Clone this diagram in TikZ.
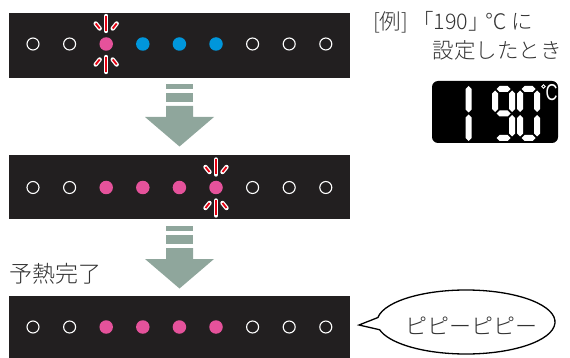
\documentclass[tikz,border=0pt]{standalone}
\usepackage{fontspec}
\newfontfamily\jp{Noto Sans CJK JP Light}
\newfontfamily\lsans{Liberation Sans}
\definecolor{panelbg}{HTML}{221F20}
\definecolor{dotpink}{HTML}{E5529B}
\definecolor{dotblue}{HTML}{0096DB}
\definecolor{arrowgreen}{HTML}{8FA69C}
\definecolor{blinkred}{HTML}{E60012}
\definecolor{txtgray}{HTML}{333333}
\usetikzlibrary{calc}
\tikzset{
  dotoff/.style={circle, draw=white, line width=1.1pt, inner sep=0pt, minimum size=12pt},
  dotpk/.style={circle, fill=dotpink, inner sep=0pt, minimum size=13.5pt},
  dotbl/.style={circle, fill=dotblue, inner sep=0pt, minimum size=13.5pt},
  panelbox/.style={fill=panelbg},
  arrowfill/.style={fill=arrowgreen},
  blinkw/.style={white, line width=4.4pt, line cap=round},
  blinkr/.style={blinkred, line width=1.8pt},
  jptext/.style={font=\jp, text=txtgray, inner sep=0pt},
  seg/.style={fill=white}
}
\newcommand{\hsg}[3]{\fill[seg] (#1,#3) -- ++(3,-3) -- ++({#2-#1-6},0) -- ++(3,3) -- ++(-3,3) -- ++({-(#2-#1-6)},0) -- cycle;}
\newcommand{\vsg}[3]{\fill[seg] (#1,#2) -- ++(3,3) -- ++(0,{#3-#2-6}) -- ++(-3,3) -- ++(-3,-3) -- ++(0,{-(#3-#2-6)}) -- cycle;}
\newcommand{\blinkmarks}[1]{%
  \foreach \a/\b/\c/\d in {0/-28/0/-13, -10.5/-20.5/-6.5/-15.5, 10.5/-20.5/6.5/-15.5,
                           0/28/0/13, -10.5/20.5/-6.5/15.5, 10.5/20.5/6.5/15.5}{
    \draw[blinkw] ($(#1)+(\a,\b)$) -- ($(#1)+(\c,\d)$);
    \draw[blinkr] ($(#1)+(\a,\b)$) -- ($(#1)+(\c,\d)$);
  }}
\newcommand{\flowarrow}[1]{%
  \begin{scope}[shift={(0,#1)}]
    \fill[arrowfill] (166,84) rectangle (193,89);
    \fill[arrowfill] (166,93) rectangle (193,102);
    \fill[arrowfill] (166,106) -- (193,106) -- (193,117) -- (214,117) -- (179.5,146.5) -- (145,117) -- (166,117) -- cycle;
  \end{scope}}
\begin{document}
\begin{tikzpicture}[x=1pt,y=-1pt]
\useasboundingbox (0,0) rectangle (570,358);
% panels
\fill[panelbox] (9,13) rectangle (350,78);
\fill[panelbox] (9,155) rectangle (350,219);
\fill[panelbox] (9,296) rectangle (350,358);
% panel 1 dots
\foreach \i/\s in {1/dotoff,2/dotoff,3/dotpk,4/dotbl,5/dotbl,6/dotbl,7/dotoff,8/dotoff,9/dotoff}
  \node[\s] (a\i) at ({33+36.6*(\i-1)},44) {};
% panel 2 dots
\foreach \i/\s in {1/dotoff,2/dotoff,3/dotpk,4/dotpk,5/dotpk,6/dotpk,7/dotoff,8/dotoff,9/dotoff}
  \node[\s] (b\i) at ({33+36.6*(\i-1)},187.5) {};
% panel 3 dots
\foreach \i/\s in {1/dotoff,2/dotoff,3/dotpk,4/dotpk,5/dotpk,6/dotpk,7/dotoff,8/dotoff,9/dotoff}
  \node[\s] (c\i) at ({33+36.6*(\i-1)},327) {};
% blinking marks
\blinkmarks{a3}
\blinkmarks{b6}
% arrows
\flowarrow{0}
\flowarrow{142}
% texts
\tikzset{jpmid/.style={jptext, font=\jp\fontsize{21.5}{24}\selectfont}}
\node[jpmid, anchor=base west] (ex1a) at (373,30) {[例]};
\node[jpmid, anchor=base west] (ex1b) at (412,30) {「190」};
\node[jpmid, anchor=base east] (ex1c) at (507,30) {℃};
\node[jpmid, anchor=base west] (ex1d) at (511,30) {に};
\node[jpmid, anchor=base east] (ex2) at (562,59) {設定したとき};
\node[jptext, font=\jp\fontsize{23}{26}\selectfont, anchor=base west] (yonetsu) at (9,282) {予熱完了};
% display
\fill[black, rounded corners=6pt] (432,81) rectangle (558,143);
% digit 1
\vsg{468.5}{86}{112.5}
\vsg{468.5}{114.5}{141}
% digit 9 (L=495,R=512)
\hsg{496.5}{510.5}{89}
\vsg{512}{90.5}{112}
\vsg{512}{115}{136.5}
\hsg{496.5}{510.5}{138}
\vsg{495}{90.5}{112}
\hsg{496.5}{510.5}{113.5}
% digit 0 (L=520,R=537)
\hsg{521.5}{535.5}{89}
\vsg{537}{90.5}{112}
\vsg{537}{115}{136.5}
\hsg{521.5}{535.5}{138}
\vsg{520}{115}{136.5}
\vsg{520}{90.5}{112}
\draw[white, line width=0.9pt] (543.5,86.5) circle (1.8);
\node[font=\lsans\fontsize{23}{23}\selectfont, text=white, inner sep=0pt, xscale=0.72, anchor=base] (degc) at (551.5,100.5) {C};
% speech bubble
\coordinate (tip) at (359,325);
\draw[black, line width=1.3pt, fill=white] (tip) -- ({466+89*cos(188)},{322+32*sin(188)}) arc[start angle=188, end angle=526, x radius=89, y radius=32] -- cycle;
\node[jptext, font=\jp\fontsize{22}{24}\selectfont, anchor=base] (beep) at (471,334) {ピピーピピー};
\end{tikzpicture}
\end{document}
